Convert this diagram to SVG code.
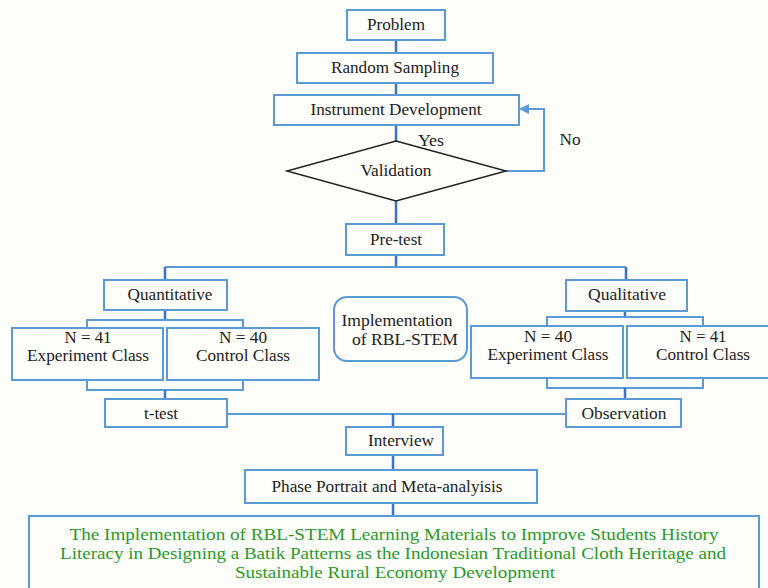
<svg xmlns="http://www.w3.org/2000/svg" width="768" height="588" viewBox="0 0 768 588">
  <style>
    .box { fill: #fdfdf9; stroke: #5b9bd5; stroke-width: 2; }
    .t { font-family: "Liberation Serif", "Times New Roman", serif; font-size: 16px; fill: #222; text-anchor: middle; }
    .g { font-family: "Liberation Serif", "Times New Roman", serif; font-size: 17px; fill: #2a9a2a; text-anchor: middle; }
    .ln { fill: none; stroke: #5b9bd5; stroke-width: 2; }
    .dk { fill: none; stroke: #3d72c6; stroke-width: 2.5; }
  </style>
  <defs>
    <marker id="arr" viewBox="0 0 10 10" refX="9" refY="5" markerWidth="5" markerHeight="5" orient="auto">
      <path d="M0,0 L10,5 L0,10 z" fill="#5b9bd5"/>
    </marker>
  </defs>
  <rect width="768" height="588" fill="#fdfdf9"/>

  <g id="connectors">
    <line class="dk" x1="396" y1="40" x2="396" y2="53"/>
    <line class="dk" x1="396" y1="83" x2="396" y2="95"/>
    <line class="dk" x1="396" y1="125" x2="396" y2="141"/>
    <line class="dk" x1="396" y1="201" x2="396" y2="224"/>
    <polyline class="ln" points="506,171 544,171 544,109 520,109" marker-end="url(#arr)"/>
    <line class="dk" x1="396" y1="255" x2="396" y2="267"/>
    <line class="ln" x1="165" y1="267" x2="626" y2="267"/>
    <line class="dk" x1="165" y1="267" x2="165" y2="280"/>
    <line class="dk" x1="626" y1="267" x2="626" y2="281"/>
    <!-- quantitative branch -->
    <line class="dk" x1="165" y1="310" x2="165" y2="320"/>
    <polyline class="ln" points="87,328 87,320 243,320 243,328"/>
    <polyline class="ln" points="87,380 87,390 243,390 243,380"/>
    <line class="dk" x1="165" y1="390" x2="165" y2="399"/>
    <!-- qualitative branch -->
    <line class="dk" x1="625" y1="311" x2="625" y2="317"/>
    <polyline class="ln" points="547,326 547,317 703,317 703,326"/>
    <polyline class="ln" points="547,378 547,388 703,388 703,378"/>
    <line class="dk" x1="625" y1="388" x2="625" y2="399"/>
    <!-- merge -->
    <line class="ln" x1="227" y1="414" x2="566" y2="414"/>
    <line class="dk" x1="393" y1="414" x2="393" y2="427"/>
    <line class="dk" x1="393" y1="455" x2="393" y2="470"/>
    <line class="dk" x1="393" y1="503" x2="393" y2="516"/>
  </g>

  <g id="problem">
    <rect class="box" x="347" y="10" width="98" height="30"/>
    <text class="t" x="396" y="30" textLength="58" lengthAdjust="spacingAndGlyphs">Problem</text>
  </g>
  <g id="random-sampling">
    <rect class="box" x="297" y="53" width="196" height="30"/>
    <text class="t" x="395" y="73" textLength="128" lengthAdjust="spacingAndGlyphs">Random Sampling</text>
  </g>
  <g id="instrument-development">
    <rect class="box" x="274" y="95" width="245" height="30"/>
    <text class="t" x="396" y="115" textLength="171" lengthAdjust="spacingAndGlyphs">Instrument Development</text>
  </g>
  <g id="validation">
    <polygon points="396,141 506,171 396,201 287,171" fill="#fdfdf9" stroke="#222" stroke-width="1.5"/>
    <text class="t" x="396" y="176" textLength="71" lengthAdjust="spacingAndGlyphs">Validation</text>
    <text class="t" x="431" y="146" textLength="26" lengthAdjust="spacingAndGlyphs">Yes</text>
    <text class="t" x="570" y="145" textLength="21" lengthAdjust="spacingAndGlyphs">No</text>
  </g>
  <g id="pre-test">
    <rect class="box" x="346" y="224" width="98" height="31"/>
    <text class="t" x="396" y="245" textLength="52" lengthAdjust="spacingAndGlyphs">Pre-test</text>
  </g>
  <g id="quantitative">
    <rect class="box" x="104" y="280" width="123" height="30"/>
    <text class="t" x="170" y="300" textLength="85" lengthAdjust="spacingAndGlyphs">Quantitative</text>
  </g>
  <g id="qualitative">
    <rect class="box" x="566" y="280" width="121" height="31"/>
    <text class="t" x="627" y="300" textLength="78" lengthAdjust="spacingAndGlyphs">Qualitative</text>
  </g>
  <g id="quant-experiment">
    <rect class="box" x="12" y="328" width="151" height="52"/>
    <text class="t" x="88" y="343" textLength="47" lengthAdjust="spacingAndGlyphs">N = 41</text>
    <text class="t" x="88" y="361" textLength="122" lengthAdjust="spacingAndGlyphs">Experiment Class</text>
  </g>
  <g id="quant-control">
    <rect class="box" x="167" y="328" width="152" height="52"/>
    <text class="t" x="243" y="343" textLength="48" lengthAdjust="spacingAndGlyphs">N = 40</text>
    <text class="t" x="243" y="361" textLength="94" lengthAdjust="spacingAndGlyphs">Control Class</text>
  </g>
  <g id="implementation">
    <rect class="box" x="334" y="297" width="133" height="64" rx="13"/>
    <text class="t" x="397" y="326" textLength="111" lengthAdjust="spacingAndGlyphs">Implementation</text>
    <text class="t" x="405" y="345" textLength="106" lengthAdjust="spacingAndGlyphs">of RBL-STEM</text>
  </g>
  <g id="qual-experiment">
    <rect class="box" x="471" y="326" width="152" height="52"/>
    <text class="t" x="548" y="342" textLength="48" lengthAdjust="spacingAndGlyphs">N = 40</text>
    <text class="t" x="548" y="360" textLength="121" lengthAdjust="spacingAndGlyphs">Experiment Class</text>
  </g>
  <g id="qual-control">
    <rect class="box" x="627" y="326" width="152" height="52"/>
    <text class="t" x="703" y="342" textLength="47" lengthAdjust="spacingAndGlyphs">N = 41</text>
    <text class="t" x="703" y="360" textLength="94" lengthAdjust="spacingAndGlyphs">Control Class</text>
  </g>
  <g id="t-test">
    <rect class="box" x="105" y="399" width="122" height="28"/>
    <text class="t" x="161" y="419" textLength="34" lengthAdjust="spacingAndGlyphs">t-test</text>
  </g>
  <g id="observation">
    <rect class="box" x="566" y="399" width="115" height="28"/>
    <text class="t" x="624" y="419" textLength="85" lengthAdjust="spacingAndGlyphs">Observation</text>
  </g>
  <g id="interview">
    <rect class="box" x="346" y="427" width="97" height="28"/>
    <text class="t" x="401" y="446" textLength="66" lengthAdjust="spacingAndGlyphs">Interview</text>
  </g>
  <g id="phase-portrait">
    <rect class="box" x="245" y="470" width="292" height="33"/>
    <text class="t" x="387" y="492" textLength="231" lengthAdjust="spacingAndGlyphs">Phase Portrait and Meta-analyisis</text>
  </g>
  <g id="result">
    <rect class="box" x="29" y="516" width="730" height="80"/>
    <text class="g" x="394" y="540" textLength="649" lengthAdjust="spacingAndGlyphs">The Implementation of RBL-STEM Learning Materials to  Improve Students History</text>
    <text class="g" x="393" y="559" textLength="666" lengthAdjust="spacingAndGlyphs">Literacy in Designing a Batik Patterns as the Indonesian Traditional Cloth Heritage and</text>
    <text class="g" x="395" y="578" textLength="320" lengthAdjust="spacingAndGlyphs">Sustainable Rural Economy Development</text>
  </g>
</svg>
